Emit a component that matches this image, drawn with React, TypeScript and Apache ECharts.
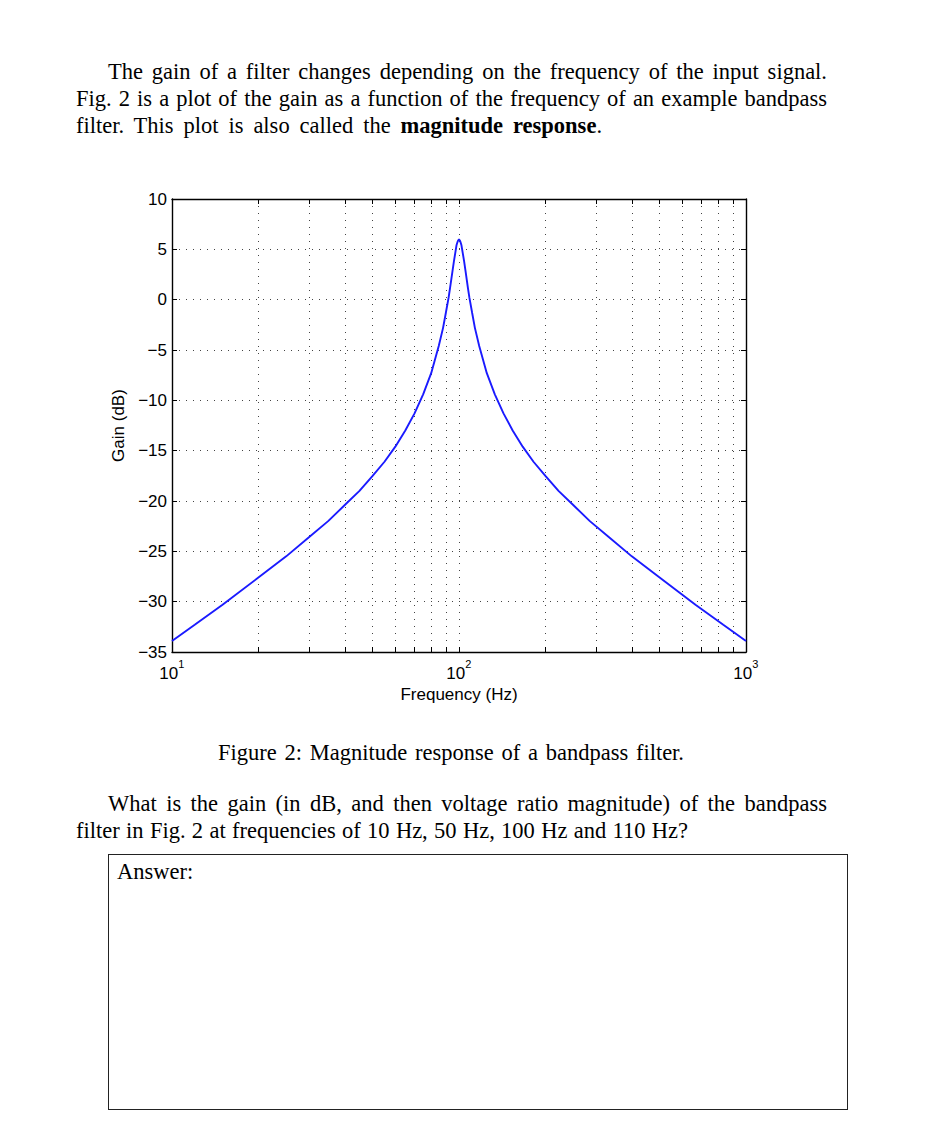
import React, { useEffect, useRef } from "react";
import * as echarts from "echarts";

// Frequencies (Hz) and gain (dB)
const freqHz = [
  10, 12, 15, 20, 25, 30, 35, 40, 45, 50, 55, 60, 65, 70, 75, 80, 85, 88, 90, 92, 93, 95, 96, 97, 98, 99, 100,
  101, 102, 103.1, 104.2, 105.3, 107.5, 108.7, 111.1, 113.6, 117.6, 125, 133.3, 142.9, 153.8, 166.7, 181.8, 200,
  222.2, 250, 285.7, 333.3, 400, 500, 666.7, 833.3, 1000,
];
const gainDb = [
  -33.9, -32.3, -30.3, -27.6, -25.5, -23.6, -22.0, -20.4, -19.0, -17.5, -16.1, -14.6, -13.0, -11.3, -9.4, -7.3, -4.6,
  -2.8, -1.3, 0.2, 1.1, 2.9, 3.8, 4.6, 5.4, 5.8, 6.0,
  5.8, 5.4, 4.6, 3.8, 2.9, 1.1, 0.2, -1.3, -2.8, -4.6, -7.3, -9.4, -11.3, -13.0, -14.6, -16.1, -17.5,
  -19.0, -20.4, -22.0, -23.6, -25.5, -27.6, -30.3, -32.3, -33.9,
];

// Axis ticks
const xTickValues = [
  10, 20, 30, 40, 50, 60, 70, 80, 90, 100, 200, 300, 400, 500, 600, 700, 800, 900, 1000,
];
const xLabelValues = [10, 100, 1000];
const yMin = -35;
const yMax = 10;
const yStep = 5;

const SANS = "Liberation Sans, Arial, Helvetica, sans-serif";
const SERIF = "Liberation Serif, Times New Roman, serif";

function Line(props: { left: number; top: number; width: number; children: React.ReactNode }) {
  return (
    <div
      style={{
        position: "absolute",
        left: props.left,
        top: props.top,
        width: props.width,
        fontFamily: SERIF,
        fontSize: 22.5,
        lineHeight: "22.5px",
        color: "#000",
        whiteSpace: "nowrap",
        textAlign: "justify",
        textAlignLast: "justify" as any,
      }}
    >
      {props.children}
    </div>
  );
}

export default function App() {
  const ref = useRef<HTMLDivElement>(null);

  useEffect(() => {
    if (!ref.current) return;
    const chart = echarts.init(ref.current, undefined, { renderer: "svg" });
    const data = freqHz.map((f, i) => [f, gainDb[i]]);
    const axisLine = { show: true, onZero: false, lineStyle: { color: "#000", width: 1.4 } };
    const tickStyle = { color: "#000", width: 1 };
    const dotted = { color: "#444", width: 1, type: [1, 6] as any };

    chart.setOption({
      animation: false,
      backgroundColor: "transparent",
      grid: { left: 172, top: 199, width: 574, height: 453, containLabel: false },
      xAxis: [
        {
          type: "log",
          logBase: 10,
          min: 10,
          max: 1000,
          name: "Frequency (Hz)",
          nameLocation: "middle",
          nameGap: 34,
          nameTextStyle: { fontFamily: SANS, fontSize: 17, color: "#000" },
          axisLine,
          axisTick: { show: true, inside: true, length: 5, customValues: xTickValues, lineStyle: tickStyle },
          minorTick: { show: false },
          axisLabel: {
            customValues: xLabelValues,
            margin: 6,
            formatter: (v: number) => `{b|10}{s|${Math.round(Math.log10(v))}}{h| }`,
            rich: {
              b: { fontFamily: SANS, fontSize: 17, lineHeight: 17, color: "#000", verticalAlign: "bottom" },
              s: { fontFamily: SANS, fontSize: 11, lineHeight: 11, color: "#000", verticalAlign: "top" },
              h: { fontFamily: SANS, fontSize: 1, lineHeight: 24, color: "#000" },
            },
          },
          splitLine: { show: true, lineStyle: dotted },
        },
        {
          type: "log",
          logBase: 10,
          min: 10,
          max: 1000,
          position: "top",
          axisLine,
          axisTick: { show: true, inside: true, length: 5, customValues: xTickValues, lineStyle: tickStyle },
          axisLabel: { show: false },
          splitLine: { show: false },
        },
      ],
      yAxis: [
        {
          type: "value",
          min: yMin,
          max: yMax,
          interval: yStep,
          name: "Gain (dB)",
          nameLocation: "middle",
          nameGap: 41,
          nameRotate: 90,
          nameTextStyle: { fontFamily: SANS, fontSize: 17, color: "#000" },
          axisLine,
          axisTick: { show: true, inside: true, length: 5, lineStyle: tickStyle },
          axisLabel: {
            margin: 5,
            fontFamily: SANS,
            fontSize: 17,
            color: "#000",
            formatter: (v: number) => String(v).replace("-", "\u2212"),
          },
          splitLine: { show: true, lineStyle: dotted },
        },
        {
          type: "value",
          min: yMin,
          max: yMax,
          interval: yStep,
          position: "right",
          axisLine,
          axisTick: { show: true, inside: true, length: 5, lineStyle: tickStyle },
          axisLabel: { show: false },
          splitLine: { show: false },
        },
      ],
      series: [
        {
          type: "line",
          data,
          xAxisIndex: 0,
          yAxisIndex: 0,
          symbol: "none",
          showSymbol: false,
          smooth: false,
          lineStyle: { color: "#1a1aff", width: 1.9 },
          z: 5,
        },
      ],
    });
    return () => chart.dispose();
  }, []);

  return (
    <div style={{ position: "absolute", left: 0, top: 0, width: 936, height: 1144, background: "#fff" }}>
      <div ref={ref} style={{ position: "absolute", left: 0, top: 0, width: 936, height: 1144 }} />
      <Line left={108} top={61} width={719}>
        The gain of a filter changes depending on the frequency of the input signal.
      </Line>
      <Line left={76} top={88} width={751}>
        Fig. 2 is a plot of the gain as a function of the frequency of an example bandpass
      </Line>
      <Line left={76} top={115} width={526}>
        filter. This plot is also called the <b>magnitude response</b>.
      </Line>
      <Line left={218} top={742} width={466}>
        Figure 2: Magnitude response of a bandpass filter.
      </Line>
      <Line left={108} top={793} width={719}>
        What is the gain (in dB, and then voltage ratio magnitude) of the bandpass
      </Line>
      <Line left={76} top={820} width={612}>
        filter in Fig. 2 at frequencies of 10 Hz, 50 Hz, 100 Hz and 110 Hz?
      </Line>
      <div
        style={{
          position: "absolute",
          left: 108,
          top: 854,
          width: 740,
          height: 256,
          border: "1px solid #222",
          boxSizing: "border-box",
        }}
      />
      <div
        style={{
          position: "absolute",
          left: 117,
          top: 861,
          fontFamily: SERIF,
          fontSize: 22.5,
          lineHeight: "22.5px",
          color: "#000",
          whiteSpace: "nowrap",
        }}
      >
        Answer:
      </div>
    </div>
  );
}
